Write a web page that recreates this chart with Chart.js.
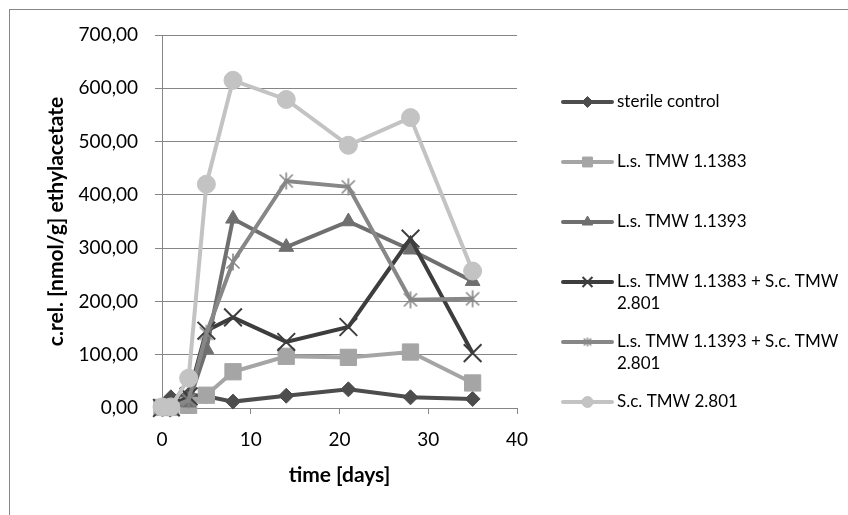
<!DOCTYPE html>
<html>
<head>
<meta charset="utf-8">
<script src="https://cdn.jsdelivr.net/npm/chart.js@4/dist/chart.umd.min.js"></script>
<style>
  html, body { margin: 0; padding: 0; background: #ffffff; }
  canvas { display: block; }
</style>
</head>
<body>
<canvas id="chart" width="848" height="515"></canvas>
<script>
// Sampling days and measured ethyl acetate concentrations per culture
const days = [0, 1, 3, 5, 8, 14, 21, 28, 35];
const sterileControl = [2, 20, 25, 22, 12, 23, 35, 20, 17];
const ls1383 = [1, 1, 5, 24, 68, 97, 95, 105, 47];
const ls1393 = [0, 1, 10, 110, 355, 302, 350, 297, 238];
const ls1383Sc = [0, 1, 22, 145, 170, 124, 152, 318, 103];
const ls1393Sc = [0, 1, 15, 140, 274, 426, 415, 203, 205];
const sc2801 = [2, 2, 56, 420, 615, 579, 493, 545, 257];

const seriesLabels = [
  'sterile control',
  'L.s. TMW 1.1383',
  'L.s. TMW 1.1393',
  'L.s. TMW 1.1383 + S.c. TMW 2.801',
  'L.s. TMW 1.1393 + S.c. TMW 2.801',
  'S.c. TMW 2.801'
];

const xTickValues = [0, 10, 20, 30, 40];
const yTickValues = [0, 100, 200, 300, 400, 500, 600, 700];

const FONT = 'Lato';
const AXIS_GRAY = '#868686';

// Asterisk marker: an X with a vertical stroke through it
function asteriskMarker(size, color, lw) {
  const c = document.createElement('canvas');
  c.width = size; c.height = size;
  const g = c.getContext('2d');
  const m = size / 2, a = size / 2 - lw, d = a * 0.78;
  g.strokeStyle = color;
  g.lineWidth = lw;
  g.beginPath();
  g.moveTo(m - d, m - d); g.lineTo(m + d, m + d);
  g.moveTo(m + d, m - d); g.lineTo(m - d, m + d);
  g.moveTo(m, m - a); g.lineTo(m, m + a);
  g.stroke();
  return c;
}

const styles = [
  { color: '#4d4d4d', point: 'rectRot', r: 7.5, legendR: 5.5, bw: 1 },
  { color: '#a5a5a5', point: 'rect', r: 11.5, legendR: 7, bw: 1 },
  { color: '#6f6f6f', point: 'triangle', r: 8.5, legendR: 6, bw: 1 },
  { color: '#3d3d3d', point: 'crossRot', r: 12.5, legendR: 7, bw: 2 },
  { color: '#878787', point: asteriskMarker(20, '#878787', 1.6), legend: asteriskMarker(12, '#878787', 1.4), bw: 1 },
  { color: '#c3c3c3', point: 'circle', r: 9, legendR: 5.5, bw: 1 }
];

const seriesValues = [sterileControl, ls1383, ls1393, ls1383Sc, ls1393Sc, sc2801];

const datasets = seriesValues.map((vals, i) => {
  const s = styles[i];
  return {
    label: seriesLabels[i],
    data: days.map((d, k) => ({ x: d, y: vals[k] })),
    borderColor: s.color,
    backgroundColor: s.color,
    borderWidth: 4,
    pointStyle: s.point,
    pointRadius: s.r || 10,
    pointHoverRadius: s.r || 10,
    pointBorderColor: s.color,
    pointBackgroundColor: s.color,
    pointBorderWidth: s.bw,
    tension: 0,
    clip: false,
    order: seriesValues.length - 1 - i
  };
});

// Outer frame around the whole chart
const framePlugin = {
  id: 'frame',
  beforeDraw(chart) {
    const ctx = chart.ctx;
    ctx.save();
    ctx.fillStyle = '#ffffff';
    ctx.fillRect(0, 0, chart.width, chart.height);
    ctx.strokeStyle = AXIS_GRAY;
    ctx.lineWidth = 1;
    ctx.strokeRect(9.5, 9.5, chart.width + 10, chart.height + 10);
    ctx.restore();
  }
};

// Legend on the right with wrapped labels and line+marker swatches
const sideLegend = {
  id: 'sideLegend',
  afterDraw(chart) {
    const ctx = chart.ctx;
    const x0 = 563, x1 = 612, tx = 617, maxW = 230;
    const rowTop = 102, rowPitch = 60, lineH = 22;
    ctx.save();
    ctx.font = '17px ' + FONT;
    ctx.textBaseline = 'middle';
    chart.data.datasets.forEach((ds, i) => {
      const s = styles[i];
      const y = rowTop + rowPitch * i;
      ctx.strokeStyle = s.color;
      ctx.lineWidth = 4;
      ctx.lineCap = 'round';
      ctx.beginPath();
      ctx.moveTo(x0, y); ctx.lineTo(x1, y);
      ctx.stroke();
      ctx.lineCap = 'butt';
      ctx.fillStyle = s.color;
      ctx.strokeStyle = s.color;
      ctx.lineWidth = s.bw;
      Chart.helpers.drawPoint(ctx, {
        pointStyle: s.legend || s.point,
        radius: s.legendR || 6,
        rotation: 0,
        borderWidth: s.bw
      }, (x0 + x1) / 2, y);
      // word wrap
      const words = ds.label.split(' ');
      const lines = [];
      let cur = '';
      words.forEach(w => {
        const t = cur ? cur + ' ' + w : w;
        if (ctx.measureText(t).width > maxW && cur) { lines.push(cur); cur = w; }
        else cur = t;
      });
      if (cur) lines.push(cur);
      ctx.fillStyle = '#000000';
      lines.forEach((ln, k) => ctx.fillText(ln, tx, y + k * lineH));
    });
    ctx.restore();
  }
};

new Chart(document.getElementById('chart'), {
  type: 'line',
  data: { datasets },
  plugins: [framePlugin, sideLegend],
  options: {
    responsive: false,
    animation: false,
    events: [],
    layout: { padding: { left: 0, top: 35, right: 331, bottom: 0 } },
    plugins: {
      legend: { display: false },
      tooltip: { enabled: false }
    },
    scales: {
      x: {
        type: 'linear',
        min: 0,
        max: 40,
        afterBuildTicks(s) { s.ticks = xTickValues.map(v => ({ value: v })); },
        afterFit(s) { s.height = 107; s.paddingLeft = 0; s.paddingRight = 0; },
        grid: {
          display: true,
          drawOnChartArea: false,
          drawTicks: true,
          tickLength: 6,
          color: AXIS_GRAY
        },
        border: { display: true, color: AXIS_GRAY, width: 1 },
        ticks: {
          color: '#000000',
          padding: 14,
          maxRotation: 0,
          font: { family: FONT, size: 19 },
          callback: v => String(v)
        },
        title: {
          display: true,
          text: 'time [days]',
          color: '#000000',
          font: { family: FONT, size: 21, weight: 'bold' },
          padding: { top: 0, bottom: 27 }
        }
      },
      y: {
        type: 'linear',
        min: 0,
        max: 700,
        afterBuildTicks(s) { s.ticks = yTickValues.map(v => ({ value: v })); },
        afterFit(s) { s.width = 162; s.paddingTop = 0; s.paddingBottom = 0; },
        grid: {
          display: true,
          drawTicks: true,
          tickLength: 7,
          color: AXIS_GRAY
        },
        border: { display: true, color: AXIS_GRAY, width: 1 },
        ticks: {
          color: '#000000',
          padding: 17,
          font: { family: FONT, size: 19 },
          callback: v => v.toFixed(2).replace('.', ',')
        },
        title: {
          display: true,
          text: 'c.rel. [nmol/g] ethylacetate',
          color: '#000000',
          font: { family: FONT, size: 21, weight: 'bold' },
          padding: { top: 44, bottom: 0 }
        }
      }
    }
  }
});
</script>
</body>
</html>
